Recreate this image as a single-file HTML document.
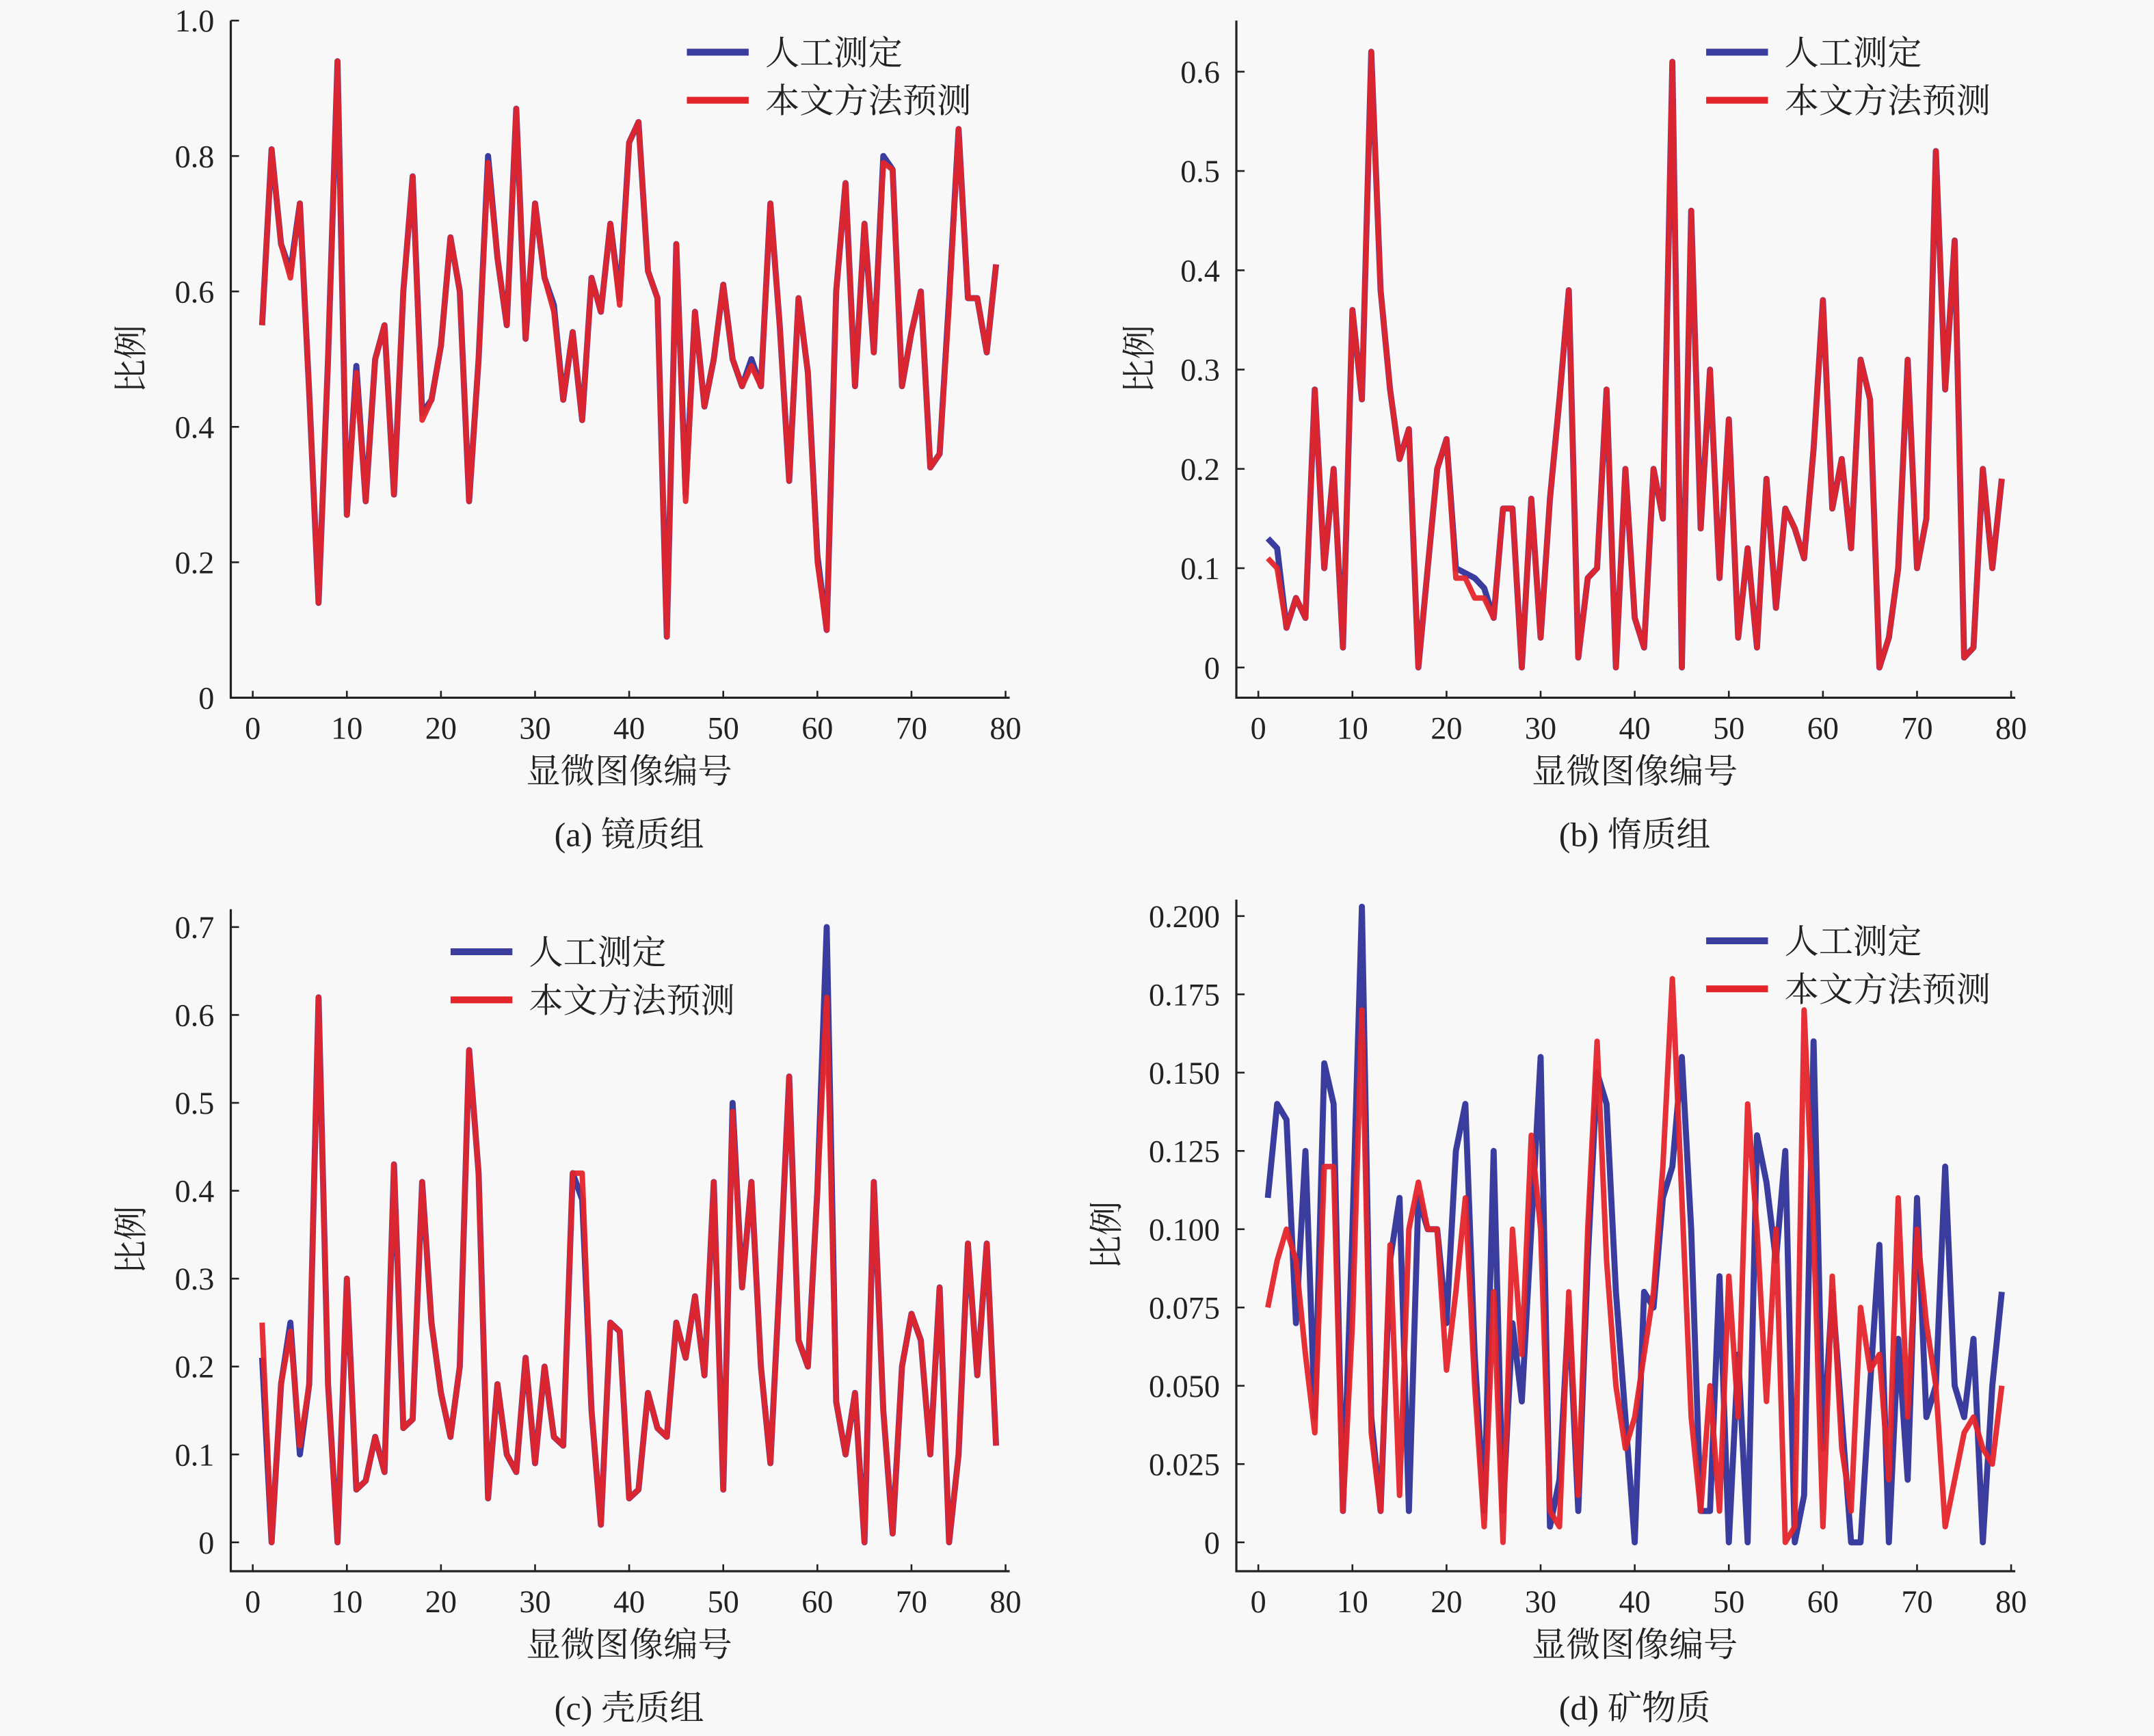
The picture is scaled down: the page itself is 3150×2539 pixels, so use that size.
<!DOCTYPE html>
<html><head><meta charset="utf-8">
<style>
html,body{margin:0;padding:0;background:#f8f8f8;}
svg{display:block;}
text{font-family:"Liberation Serif","Noto Serif CJK SC",serif;fill:#222;}
</style></head>
<body>
<svg id="s" width="3150" height="2539" viewBox="0 0 1568 1264" preserveAspectRatio="none" xmlns="http://www.w3.org/2000/svg"></svg>
<script>
const S=document.getElementById('s');let h='';
const BLUE='#3a3c9e',RED='#e3252b';
const A=[0.55,0.81,0.67,0.62,0.73,0.45,0.14,0.5,0.94,0.27,0.48,0.29,0.5,0.55,0.3,0.6,0.77,0.41,0.44,0.52,0.68,0.6,0.29,0.5,0.79,0.65,0.55,0.87,0.53,0.73,0.62,0.57,0.44,0.54,0.41,0.62,0.57,0.7,0.58,0.82,0.85,0.63,0.59,0.09,0.67,0.29,0.57,0.43,0.5,0.61,0.5,0.46,0.49,0.46,0.73,0.55,0.32,0.59,0.48,0.2,0.1,0.6,0.76,0.46,0.7,0.51,0.79,0.78,0.46,0.54,0.6,0.34,0.36,0.58,0.84,0.59,0.59,0.51,0.64];
const B=[0.11,0.1,0.04,0.07,0.05,0.28,0.1,0.2,0.02,0.36,0.27,0.62,0.38,0.28,0.21,0.24,0,0.1,0.2,0.23,0.09,0.09,0.07,0.07,0.05,0.16,0.16,0,0.17,0.03,0.17,0.27,0.38,0.01,0.09,0.1,0.28,0,0.2,0.05,0.02,0.2,0.15,0.61,0,0.46,0.14,0.3,0.09,0.25,0.03,0.12,0.02,0.19,0.06,0.16,0.14,0.11,0.22,0.37,0.16,0.21,0.12,0.31,0.27,0,0.03,0.1,0.31,0.1,0.15,0.52,0.28,0.43,0.01,0.02,0.2,0.1,0.19];
const Bb=B.slice();Bb[0]=0.13;Bb[1]=0.12;Bb[20]=0.1;Bb[21]=0.095;Bb[22]=0.09;Bb[23]=0.08;
const C=[0.25,0,0.18,0.24,0.11,0.18,0.62,0.18,0,0.3,0.06,0.07,0.12,0.08,0.43,0.13,0.14,0.41,0.25,0.17,0.12,0.2,0.56,0.42,0.05,0.18,0.1,0.08,0.21,0.09,0.2,0.12,0.11,0.42,0.42,0.15,0.02,0.25,0.24,0.05,0.06,0.17,0.13,0.12,0.25,0.21,0.28,0.19,0.41,0.06,0.49,0.29,0.41,0.2,0.09,0.3,0.53,0.23,0.2,0.4,0.62,0.16,0.1,0.17,0,0.41,0.15,0.01,0.2,0.26,0.23,0.1,0.29,0,0.1,0.34,0.19,0.34,0.11];
const Cb=C.slice();Cb[0]=0.21;Cb[3]=0.25;Cb[4]=0.1;Cb[34]=0.39;Cb[50]=0.5;Cb[60]=0.7;
const Db=[0.11,0.14,0.135,0.07,0.125,0.04,0.153,0.14,0.01,0.1,0.203,0.04,0.01,0.09,0.11,0.01,0.11,0.1,0.1,0.07,0.125,0.14,0.06,0.01,0.125,0.01,0.07,0.045,0.1,0.155,0.005,0.02,0.075,0.01,0.09,0.15,0.14,0.08,0.04,0,0.08,0.075,0.11,0.12,0.155,0.1,0.01,0.01,0.085,0,0.06,0,0.13,0.115,0.09,0.125,0,0.015,0.16,0.03,0.08,0.04,0,0,0.05,0.095,0,0.065,0.02,0.11,0.04,0.05,0.12,0.05,0.04,0.065,0,0.05,0.08];
const Dr=[0.075,0.09,0.1,0.09,0.06,0.035,0.12,0.12,0.01,0.07,0.17,0.035,0.01,0.095,0.015,0.1,0.115,0.1,0.1,0.055,0.08,0.11,0.05,0.005,0.08,0,0.1,0.06,0.13,0.1,0.01,0.005,0.08,0.015,0.1,0.16,0.09,0.05,0.03,0.04,0.06,0.08,0.12,0.18,0.11,0.04,0.01,0.05,0.01,0.085,0.04,0.14,0.1,0.045,0.1,0,0.005,0.17,0.1,0.005,0.085,0.03,0.01,0.075,0.055,0.06,0.02,0.11,0.04,0.1,0.07,0.05,0.005,0.02,0.035,0.04,0.03,0.025,0.05];
function panel(o){
 const {ax,ay,top,x0,y0,yk,ticks,blue,red,leg,cap,labx}=o;
 const X=v=>x0+6.85*v, Y=v=>y0-yk*v;
 h+=`<path d="M${ax} ${top}V${ay}H${ax+567}" fill="none" stroke="#222" stroke-width="1.6"/>`;
 for(let i=0;i<=80;i+=10){h+=`<path d="M${X(i)} ${ay}v-5" stroke="#222" stroke-width="1.3"/><text x="${X(i)}" y="${ay+30}" font-size="23" text-anchor="middle">${i}</text>`;}
 ticks.forEach(t=>{h+=`<path d="M${ax} ${Y(t[0])}h6" stroke="#222" stroke-width="1.3"/><text x="${ax-12}" y="${Y(t[0])+8}" font-size="23" text-anchor="end">${t[1]}</text>`;});
 const pts=d=>d.map((v,i)=>`${X(i+1).toFixed(1)},${Y(v).toFixed(1)}`).join(' ');
 h+=`<polyline points="${pts(blue)}" fill="none" stroke="${BLUE}" stroke-width="4.4" stroke-linejoin="round"/>`;
 h+=`<polyline points="${pts(red)}" fill="none" stroke="${RED}" stroke-width="4" stroke-linejoin="round" opacity="0.95"/>`;
 h+=`<path d="M${leg[0]} ${leg[1]}h45" stroke="${BLUE}" stroke-width="5"/><path d="M${leg[0]} ${leg[1]+35}h45" stroke="${RED}" stroke-width="5"/>`;
 h+=`<text x="${leg[0]+57}" y="${leg[1]+9}" font-size="25">人工测定</text><text x="${leg[0]+57}" y="${leg[1]+44}" font-size="25">本文方法预测</text>`;
 h+=`<text x="${ax+290}" y="${ay+62}" font-size="25" text-anchor="middle">显微图像编号</text>`;
 h+=`<text x="${ax+290}" y="${ay+108}" font-size="25" text-anchor="middle">${cap}</text>`;
 const ly=(top+ay)/2;
 h+=`<text transform="translate(${labx},${ly}) rotate(-90)" font-size="25" text-anchor="middle">比例</text>`;
}
const blueA=A.map((v,i)=>i%7==3?v+0.01:v);
panel({ax:168,ay:508,top:15,x0:184,y0:508,yk:493,ticks:[[0,'0'],[0.2,'0.2'],[0.4,'0.4'],[0.6,'0.6'],[0.8,'0.8'],[1,'1.0']],blue:blueA,red:A,leg:[500,38],cap:'(a) 镜质组',labx:104});
panel({ax:900,ay:508,top:15,x0:916,y0:486,yk:723,ticks:[[0,'0'],[0.1,'0.1'],[0.2,'0.2'],[0.3,'0.3'],[0.4,'0.4'],[0.5,'0.5'],[0.6,'0.6']],blue:Bb,red:B,leg:[1242,38],cap:'(b) 惰质组',labx:838});
panel({ax:168,ay:1144,top:662,x0:184,y0:1123,yk:640,ticks:[[0,'0'],[0.1,'0.1'],[0.2,'0.2'],[0.3,'0.3'],[0.4,'0.4'],[0.5,'0.5'],[0.6,'0.6'],[0.7,'0.7']],blue:Cb,red:C,leg:[328,693],cap:'(c) 壳质组',labx:104});
panel({ax:900,ay:1144,top:655,x0:916,y0:1123,yk:2280,ticks:[[0,'0'],[0.025,'0.025'],[0.05,'0.050'],[0.075,'0.075'],[0.1,'0.100'],[0.125,'0.125'],[0.15,'0.150'],[0.175,'0.175'],[0.2,'0.200']],blue:Db,red:Dr,leg:[1242,685],cap:'(d) 矿物质',labx:814});
S.innerHTML=h;
</script>
</body></html>
